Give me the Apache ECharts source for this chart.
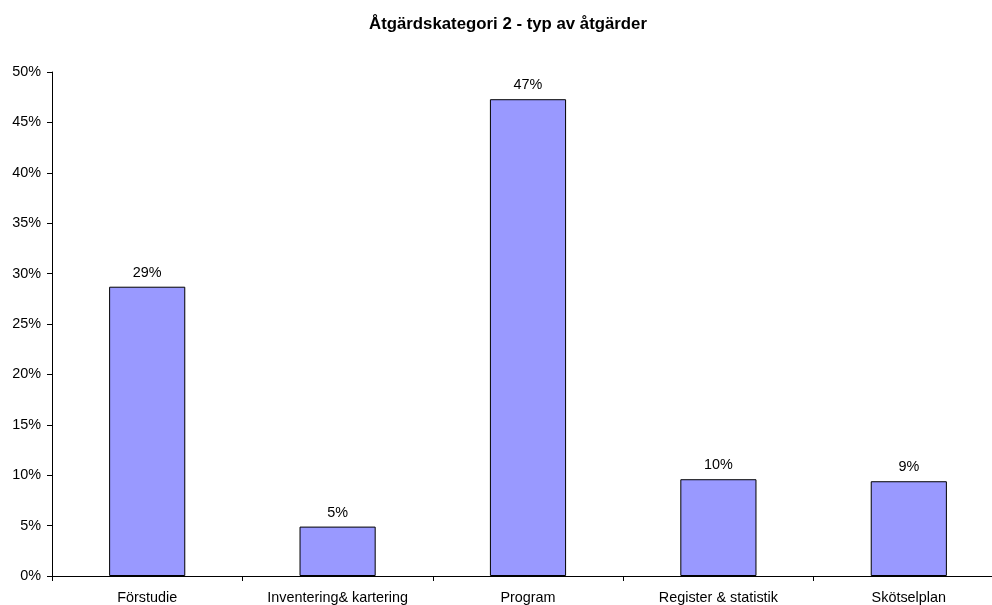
<!DOCTYPE html>
<html>
<head>
<meta charset="utf-8">
<script src="https://cdn.jsdelivr.net/npm/echarts@6/dist/echarts.min.js"></script>
<style>
  html, body { margin: 0; padding: 0; background: #fff; overflow: hidden; }
  #chart { width: 1010px; height: 605px; }
</style>
</head>
<body>
<div id="chart"></div>
<script>
var categories = ['Förstudie', 'Inventering& kartering', 'Program', 'Register & statistik', 'Skötselplan'];
var values = [28.7, 4.9, 47.3, 9.6, 9.4];
var yTicks = [0, 5, 10, 15, 20, 25, 30, 35, 40, 45, 50];

// plotytan går utanför högerkanten i originalet, därför är diven bredare än fönstret
var chart = echarts.init(document.getElementById('chart'));
chart.setOption({
    animation: false,
    textStyle: { fontFamily: 'Liberation Sans, Arial, sans-serif' },
    title: {
        text: 'Åtgärdskategori 2 - typ av åtgärder',
        left: 503,
        textAlign: 'center',
        top: 11,
        textStyle: { fontSize: 16.8, fontWeight: 'bold', color: '#000' }
    },
    grid: { left: 52, top: 72, width: 952, height: 506 },
    xAxis: {
        type: 'category',
        data: categories,
        axisLine: { lineStyle: { color: '#000', width: 1 } },
        axisTick: { show: true, length: 5, lineStyle: { color: '#000' } },
        axisLabel: { color: '#000', fontSize: 14.4, margin: 15, interval: 0 }
    },
    yAxis: {
        type: 'value',
        min: yTicks[0],
        max: yTicks[yTicks.length - 1],
        interval: 5,
        splitLine: { show: false },
        axisLine: { show: true, lineStyle: { color: '#000', width: 1 } },
        axisTick: { show: true, length: 5, lineStyle: { color: '#000' } },
        axisLabel: { color: '#000', fontSize: 14.4, margin: 11, formatter: '{value}%' }
    },
    series: [{
        type: 'bar',
        data: values,
        barWidth: '40%',
        itemStyle: { color: '#9999FF', borderColor: '#000', borderWidth: 1 },
        label: {
            show: true,
            position: 'top',
            distance: 7,
            color: '#000',
            fontSize: 14.4,
            formatter: function (p) { return Math.round(p.value) + '%'; }
        }
    }]
});
</script>
</body>
</html>
